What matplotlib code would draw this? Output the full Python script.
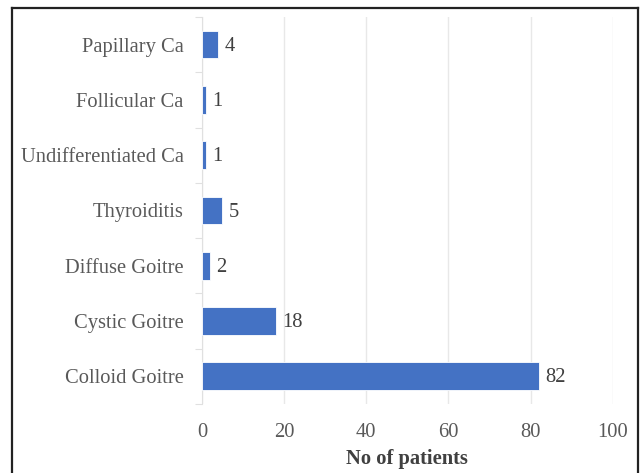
import matplotlib.pyplot as plt
import numpy as np
from matplotlib.lines import Line2D

plt.rcParams['font.family'] = ['Liberation Serif', 'DejaVu Serif']

# data, top to bottom as in the picture
categories = ["Papillary Ca", "Follicular Ca", "Undifferentiated Ca", "Thyroiditis",
              "Diffuse Goitre", "Cystic Goitre", "Colloid Goitre"]
patients = [4, 1, 1, 5, 2, 18, 82]
xticks = [0, 20, 40, 60, 80, 100]

fs = 14.8

fig = plt.figure(figsize=(6.41, 4.73), dpi=100)
ax = fig.add_axes([0.315, 0.146, 0.641, 0.818])

y = np.arange(len(categories))
bars = ax.barh(y, patients, height=0.5, color="#4472C4", edgecolor="white", linewidth=0.6, zorder=3)
ax.set_ylim(len(categories) - 0.5, -0.5)
ax.set_xlim(0, 100)

for b, v in zip(bars, patients):
    ax.text(b.get_width() + 1.5, b.get_y() + b.get_height() / 2 + 0.03, str(v),
            va="center", ha="left", fontsize=fs, color="#404040")

ax.set_yticks(y)
ax.set_yticklabels(categories, fontsize=fs, color="#595959")
ax.set_yticks(np.arange(len(categories) + 1) - 0.5, minor=True)
ax.tick_params(axis="y", which="major", length=0, pad=13)
ax.tick_params(axis="y", which="minor", length=5, color="#e0e0e0", width=0.8)

ax.set_xticks(xticks)
ax.set_xticklabels([str(t) for t in xticks], fontsize=fs, color="#595959")
ax.tick_params(axis="x", length=0, pad=14)
ax.set_xlabel("No of patients", fontsize=fs, fontweight="bold", color="#404040", labelpad=5)

ax.grid(axis="x", color="#e8e8e8", linewidth=1.0, zorder=0)
for s in ["top", "right", "bottom"]:
    ax.spines[s].set_visible(False)
ax.spines["left"].set_color("#e0e0e0")
ax.spines["left"].set_linewidth(0.8)

# outer frame of the picture (bottom edge is cut off)
fw, fh = 641, 473
x0, x1, y0 = 12 / fw, 638 / fw, 1 - 8 / fh
for xs, ys in [([x0, x1], [y0, y0]), ([x0, x0], [y0, 0]), ([x1, x1], [y0, 0])]:
    fig.add_artist(Line2D(xs, ys, color="#222222", linewidth=1.6, transform=fig.transFigure))

fig.savefig("out.png", dpi=100)
